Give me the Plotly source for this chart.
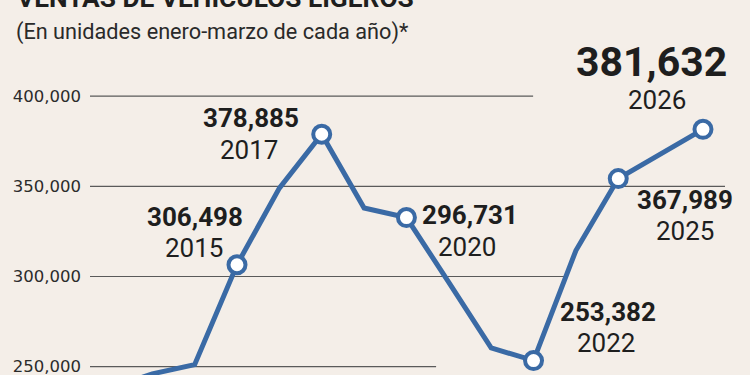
import plotly.graph_objects as go

# ---- data ----
years = [2012, 2013, 2014, 2015, 2016, 2017, 2018, 2019, 2020, 2021, 2022, 2023, 2024, 2025, 2026]
sales = [238000, 246000, 251100, 306498, 349000, 378885, 338000, 332700, 296731, 260400, 253382, 314400, 354300, 367989, 381632]
marker_years = [2015, 2017, 2019, 2022, 2024, 2026]
label_years = [2015, 2017, 2020, 2022, 2025, 2026]
tick_vals = [250000, 300000, 350000, 400000]
tick_text = ["250,000", "300,000", "350,000", "400,000"]
grid_ends = [2019.70, 2022.79, 2026.52, 2021.99]  # where each gridline stops

title = "VENTAS DE VEHÍCULOS LIGEROS"
subtitle = "(En unidades enero-marzo de cada año)*"

BG = "#f4eee8"
BLUE = "#3a6aa5"
INK = "#1e1e1e"

val = dict(zip(years, sales))

fig = go.Figure()
fig.add_trace(go.Scatter(x=years, y=sales, mode="lines",
                         line=dict(color=BLUE, width=5), hoverinfo="skip"))
fig.add_trace(go.Scatter(x=marker_years, y=[val[y] for y in marker_years], mode="markers",
                         marker=dict(size=17, color="white", line=dict(color=BLUE, width=4)),
                         hoverinfo="skip"))

X0 = 2011.53
for v, xe in zip(tick_vals, grid_ends):
    fig.add_shape(type="line", xref="x", yref="y", x0=X0, x1=xe, y0=v, y1=v,
                  line=dict(color="#5a5a5a", width=1.2), layer="below")

# label offsets (pixels) relative to each labelled point: (value dx, dy, year dx, dy)
offsets = {
    2015: (-42, 48, -43, 17),
    2017: (-71, 16, -73, -16),
    2020: (21, 67, 18, 35),
    2022: (74, 49, 72, 18),
    2025: (24, -46, 24, -77),
    2026: (-51, 67, -46, 29),
}
for yr in label_years:
    vdx, vdy, ydx, ydy = offsets[yr]
    big = yr == 2026
    fig.add_annotation(x=yr, y=val[yr], xref="x", yref="y", text=f"<b>{val[yr]:,}</b>",
                       showarrow=False, xshift=vdx, yshift=vdy, xanchor="center", yanchor="middle",
                       font=dict(family="Roboto", size=41 if big else 26, color=INK))
    fig.add_annotation(x=yr, y=val[yr], xref="x", yref="y", text=str(yr),
                       showarrow=False, xshift=ydx, yshift=ydy, xanchor="center", yanchor="middle",
                       font=dict(family="Roboto", size=26, color=INK))

fig.add_annotation(xref="paper", yref="paper", x=0, y=1, xshift=-75, yshift=2,
                   xanchor="left", yanchor="middle", showarrow=False,
                   text=f"<b>{title}</b>", font=dict(family="Roboto", size=26.3, color=INK))
fig.add_annotation(xref="paper", yref="paper", x=0, y=1, xshift=-76, yshift=-32,
                   xanchor="left", yanchor="middle", showarrow=False,
                   text=subtitle, font=dict(family="Roboto", size=21.7, color="#2a2a2a"))

fig.update_layout(
    width=750, height=375,
    margin=dict(l=90, r=0, t=0, b=0),
    paper_bgcolor=BG, plot_bgcolor=BG,
    showlegend=False,
    xaxis=dict(range=[X0, 2027.11], visible=False, fixedrange=True),
    yaxis=dict(range=[245370, 453333], tickvals=tick_vals, ticktext=tick_text,
               showgrid=False, zeroline=False, showline=False, ticks="",
               ticklabelstandoff=8, ticklabeloverflow="allow", fixedrange=True,
               tickfont=dict(family="DejaVu Sans", size=16.5, color="#2b2b2b")),
)
fig.write_html("out.html", config={"displayModeBar": False},
               post_script="document.body.style.margin='0';document.body.style.overflow='hidden';"
                           "document.body.style.background='" + BG + "';")
